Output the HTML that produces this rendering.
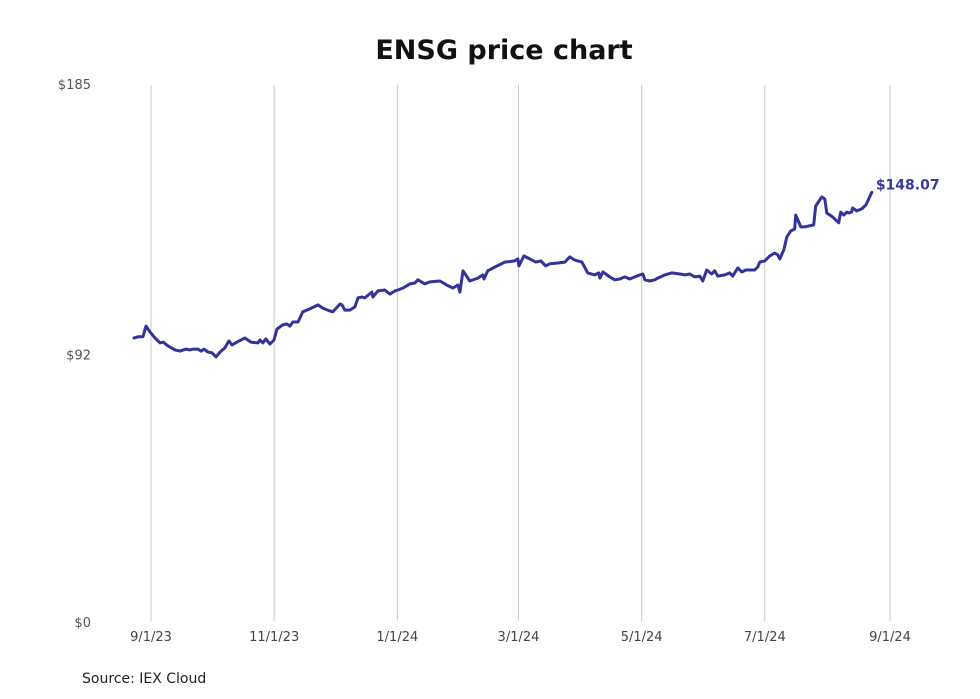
<!DOCTYPE html>
<html><head><meta charset="utf-8"><style>
body{margin:0;background:#fff;font-family:"Liberation Sans","DejaVu Sans",sans-serif;}
svg{display:block}
</style></head><body>
<svg width="980" height="699" viewBox="0 0 980 699">
<text x="504" y="59" text-anchor="middle" font-size="27" font-weight="bold" fill="#111" font-family="DejaVu Sans, sans-serif">ENSG price chart</text>
<g id="grid"></g><g id="yaxis"></g><g id="xaxis"></g><g id="series"></g>
<text x="82" y="683" font-size="14" fill="#222" font-family="DejaVu Sans, sans-serif">Source: IEX Cloud</text>
</svg>
<script>
const NS="http://www.w3.org/2000/svg";
const xTickDays=[0,61,122,182,243,304,366];
const xTickLabels=["9/1/23","11/1/23","1/1/24","3/1/24","5/1/24","7/1/24","9/1/24"];
const yTickValues=[0,92,185];
const yTickLabels=["$0","$92","$185"];
const days=[-8.4,-6.4,-4,-2.5,-0.5,2,4.5,6,8.4,11.9,14.4,17.3,19.3,20.8,23.3,24.8,26.2,28.2,30.2,32.2,34.2,36.6,38.6,40.1,42.6,46.5,49.5,53,54,55.4,56.9,58.9,60.9,62.4,65.3,67.3,68.8,70.3,72.8,73.8,75.2,78.7,82.7,85.1,88.6,90.1,93.6,94.6,96,98.5,101,102.5,104.5,105.9,109.4,109.9,112.4,115.8,118.3,120.8,122.3,124.8,128.2,130.7,132.2,135.6,138.1,143.1,146.5,149.5,152,153,154.5,157.9,161.9,164.4,164.9,166.8,170.3,175.2,180.2,181.7,182.2,184.7,187.6,190.6,193.1,195.5,197.5,201.5,205,207.4,209.9,213.4,216.3,219.8,221.8,222.3,223.8,227.2,229.7,232.2,234.7,237.1,239.6,242.1,243.6,244.6,247,249.5,251,254.5,257.9,261.9,264.4,266.8,269.3,271.8,273.3,275.2,277.7,279.2,280.7,284.2,286.6,288.1,290.6,292.6,294.6,296.5,299,300.5,301.5,304,306.4,308.9,310.4,311.4,313.4,314.9,316.8,318.8,319.3,321.8,323.8,328.2,329.2,332.2,333.7,334.7,337.6,339.1,340.6,341.6,343.1,344.6,345.5,347,347.5,349.5,352,354,357];
const prices=[98.0,98.4,98.4,102.1,100.1,98.0,96.3,96.6,95.3,93.9,93.5,94.2,93.9,94.2,94.2,93.5,94.2,93.2,92.9,91.5,93.2,94.6,97.0,95.6,96.6,98.0,96.6,96.3,97.3,96.3,97.7,95.9,97.3,101.1,102.5,102.8,102.1,103.5,103.5,104.9,107.0,108.0,109.4,108.3,107.3,107.0,109.7,109.4,107.6,107.6,108.7,111.8,112.1,111.8,113.8,112.1,114.2,114.5,113.1,114.2,114.5,115.2,116.6,116.9,118.0,116.6,117.3,117.6,116.2,115.2,116.2,113.8,121.1,117.6,118.6,119.7,118.3,121.1,122.4,124.1,124.5,125.2,122.8,126.2,125.2,124.1,124.5,122.8,123.5,123.8,124.1,125.9,124.8,124.1,120.4,119.7,120.4,118.6,120.7,119.0,118.0,118.3,119.0,118.3,119.0,119.7,120.0,118.0,117.6,118.0,118.6,119.7,120.4,120.0,119.7,120.0,119.0,119.3,117.6,121.4,120.0,121.1,119.3,119.7,120.4,119.3,122.1,120.7,121.4,121.4,121.4,122.4,124.1,124.5,126.2,127.2,126.6,125.2,128.3,132.7,134.8,135.5,140.3,136.2,136.2,136.9,143.4,146.5,145.8,141.0,139.6,138.6,137.6,141.3,140.3,141.3,141.0,141.3,142.7,141.7,142.4,143.7,148.07];
const X0=151,X1=890,D1=366,YB=623,YT=85,PMAX=185;
function xs(d){return X0+d*(X1-X0)/D1;}
function ys(p){return YB-p*(YB-YT)/PMAX;}
function mk(tag,attrs,parent){const e=document.createElementNS(NS,tag);for(const k in attrs)e.setAttribute(k,attrs[k]);parent.appendChild(e);return e;}
const grid=document.getElementById('grid'),xa=document.getElementById('xaxis'),ya=document.getElementById('yaxis'),se=document.getElementById('series');
xTickDays.forEach((d,i)=>{
  const l=mk('line',{x1:xs(d),x2:xs(d),y1:85,y2:621,stroke:'#c8c8c8','stroke-width':1},grid);
  
  
  const t=mk('text',{x:xs(d),y:641,'text-anchor':'middle','font-size':13,fill:'#444','font-family':'DejaVu Sans, sans-serif'},xa);
  t.textContent=xTickLabels[i];
  
  
});
yTickValues.forEach((v,i)=>{
  const t=mk('text',{x:91,y:ys(v)+4,'text-anchor':'end','font-size':13,fill:'#555','font-family':'DejaVu Sans, sans-serif'},ya);
  t.textContent=yTickLabels[i];
  
  
});
const pts=days.map((d,i)=>xs(d).toFixed(1)+','+ys(prices[i]).toFixed(1)).join(' ');
const pl=mk('polyline',{points:pts,fill:'none',stroke:'#33339a','stroke-width':3,'stroke-linejoin':'round','stroke-linecap':'round'},se);


const n=days.length-1;
const lab=mk('text',{x:xs(days[n])+4,y:ys(prices[n])-3,'font-size':14,'font-weight':'bold',fill:'#3a3a9a','font-family':'DejaVu Sans, sans-serif'},se);
lab.textContent='$'+prices[n].toFixed(2);


</script>
</body></html>
